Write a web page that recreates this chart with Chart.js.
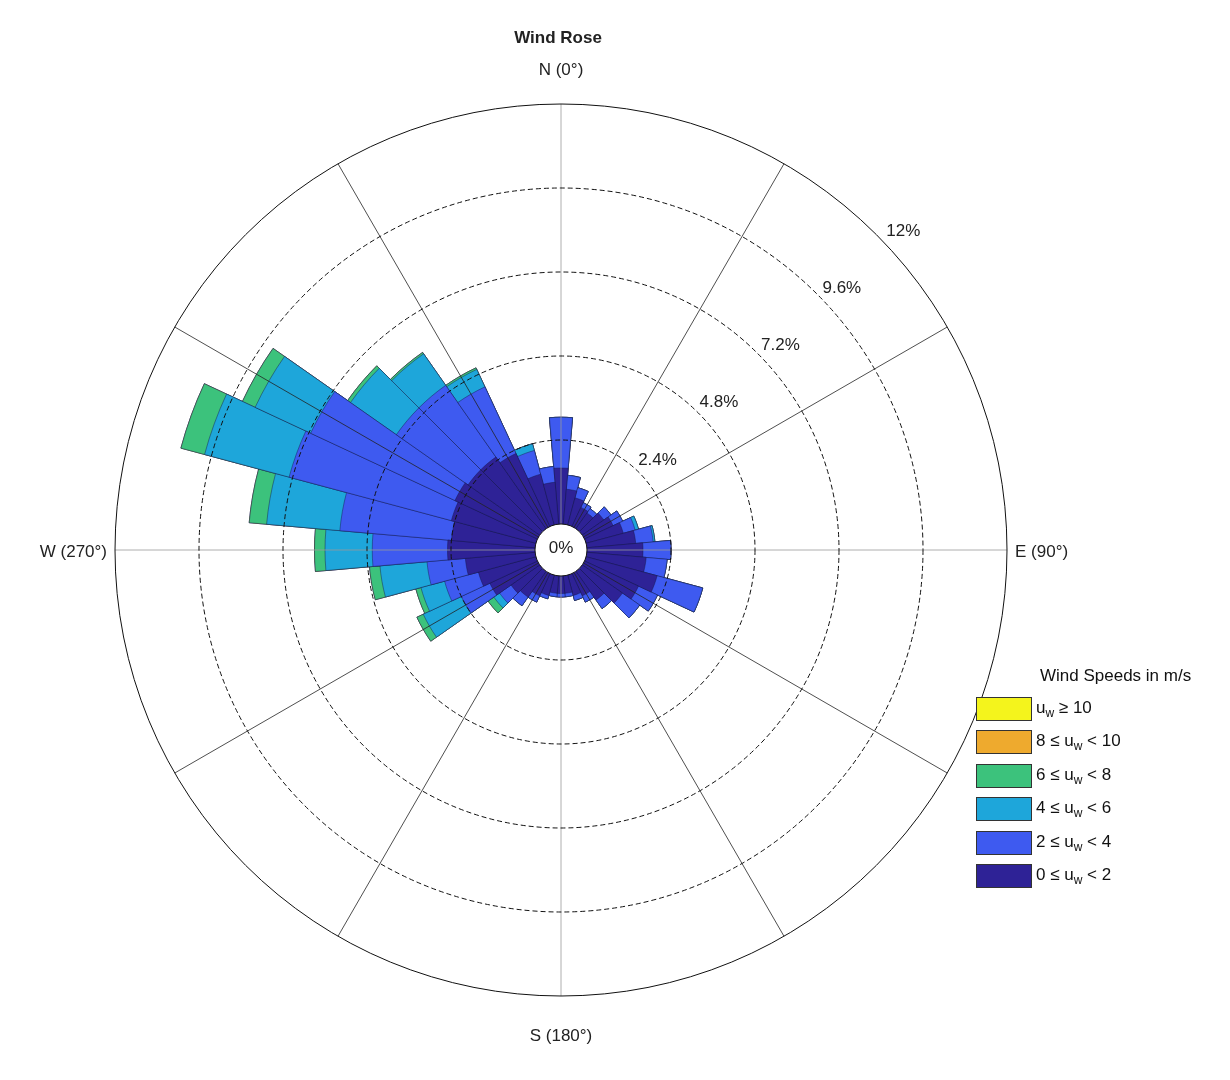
<!DOCTYPE html>
<html>
<head>
<meta charset="utf-8">
<script src="https://cdn.jsdelivr.net/npm/chart.js@4/dist/chart.umd.min.js"></script>
<style>
  body { margin: 0; background: #fff; font-family: "Liberation Sans", Arial, sans-serif; }
  #wrap { position: relative; width: 1230px; height: 1080px; }
  #legend { position: absolute; left: 976px; top: 666px; font-size: 17px; color: #111; }
  #legend .title { margin-left: 64px; margin-bottom: 6px; white-space: nowrap; }
  #legend .row { display: flex; align-items: center; height: 33.5px; }
  #legend .box { width: 54px; height: 22px; border: 1px solid #333; margin-right: 4px; }
  #legend sub { font-size: 12px; }
</style>
</head>
<body>
<div id="wrap">
  <canvas id="rose" width="1230" height="1080"></canvas>
  <div id="legend"></div>
</div>
<script>
// 方向（度），每 10° 一个扇区
const directions = Array.from({ length: 36 }, (_, i) => i * 10);
// 各风速区间频率（%）
const speed0to2 = [1.6, 1.0, 0.8, 0.6, 0.55, 0.75, 0.9, 1.1, 1.4, 1.6, 1.7, 2.1,
                   1.7, 1.4, 1.0, 0.7, 0.6, 0.5, 0.5, 0.5, 0.6, 0.7, 0.9, 1.0,
                   1.5, 1.7, 2.0, 2.5, 2.4, 2.5, 2.6, 2.5, 2.5, 2.3, 1.5, 1.2];
const speed2to4 = [1.45, 0.4, 0.3, 0.15, 0.15, 0.25, 0.3, 0.35, 0.5, 0.8, 0.6, 1.35,
                   0.6, 0.6, 0.3, 0.2, 0.15, 0.1, 0.1, 0.1, 0.1, 0.2, 0.3, 0.4,
                   0.9, 1.0, 1.1, 2.15, 3.2, 4.8, 4.55, 2.5, 2.5, 2.1, 0.7, 0.45];
const speed4to6 = [0, 0, 0, 0, 0, 0, 0, 0.1, 0.05, 0, 0, 0,
                   0, 0, 0, 0, 0, 0, 0, 0, 0, 0, 0, 0.2,
                   1.2, 0.7, 1.35, 1.35, 2.1, 2.5, 1.75, 1.6, 1.1, 0.55, 0.2, 0];
const speed6to8 = [0, 0, 0, 0, 0, 0, 0, 0, 0, 0, 0, 0,
                   0, 0, 0, 0, 0, 0, 0, 0, 0, 0, 0, 0.2,
                   0.2, 0.15, 0.3, 0.3, 0.5, 0.7, 0.4, 0.1, 0.05, 0.05, 0, 0];
const speed8to10 = new Array(36).fill(0);
const speed10up = new Array(36).fill(0);
const ringTicks = [0, 2.4, 4.8, 7.2, 9.6, 12];

const bins = [
  { label: '0 ≤ u<sub>w</sub> < 2', data: speed0to2, color: '#2e2296' },
  { label: '2 ≤ u<sub>w</sub> < 4', data: speed2to4, color: '#3e5af0' },
  { label: '4 ≤ u<sub>w</sub> < 6', data: speed4to6, color: '#1ea6da' },
  { label: '6 ≤ u<sub>w</sub> < 8', data: speed6to8, color: '#3cc27c' },
  { label: '8 ≤ u<sub>w</sub> < 10', data: speed8to10, color: '#eeaa2e' },
  { label: 'u<sub>w</sub> ≥ 10', data: speed10up, color: '#f4f41c' }
];

// 累积值：索引 0 的数据集画在最上层
let running = new Array(36).fill(0);
const datasets = bins.map(b => {
  running = running.map((v, i) => v + b.data[i]);
  return {
    data: running.slice(),
    backgroundColor: b.color,
    borderColor: 'rgba(20,20,70,0.55)',
    borderWidth: 0.8
  };
});

// 图例
const legend = document.getElementById('legend');
legend.innerHTML = '<div class="title">Wind Speeds in m/s</div>' +
  bins.slice().reverse().map(b =>
    `<div class="row"><div class="box" style="background:${b.color}"></div><span>${b.label}</span></div>`
  ).join('');

const roseDecor = {
  id: 'roseDecor',
  afterDatasetsDraw(chart) {
    const ctx = chart.ctx;
    const s = chart.scales.r;
    const cx = s.xCenter, cy = s.yCenter;
    const r0 = s.getDistanceFromCenterForValue(0);
    const rMax = s.getDistanceFromCenterForValue(12);
    ctx.save();
    // 径向线
    for (let a = 0; a < 360; a += 30) {
      const t = (a - 90) * Math.PI / 180;
      ctx.beginPath();
      ctx.strokeStyle = a % 90 === 0 ? '#9a9a9a' : '#222';
      ctx.lineWidth = 0.8;
      ctx.moveTo(cx + r0 * Math.cos(t), cy + r0 * Math.sin(t));
      ctx.lineTo(cx + rMax * Math.cos(t), cy + rMax * Math.sin(t));
      ctx.stroke();
    }
    // 同心圆
    ringTicks.forEach((v, i) => {
      const r = s.getDistanceFromCenterForValue(v);
      ctx.beginPath();
      ctx.setLineDash(i === ringTicks.length - 1 || v === 0 ? [] : [5, 3]);
      ctx.strokeStyle = '#111';
      ctx.lineWidth = 1;
      ctx.arc(cx, cy, r, 0, Math.PI * 2);
      if (v === 0) { ctx.fillStyle = '#fff'; ctx.fill(); }
      ctx.stroke();
    });
    ctx.setLineDash([]);
    ctx.fillStyle = '#222';
    ctx.font = '17px "Liberation Sans", Arial, sans-serif';
    ctx.textAlign = 'center';
    ctx.textBaseline = 'middle';
    ctx.fillText('0%', cx, cy - 2);
    const la = (47 - 90) * Math.PI / 180;
    ringTicks.slice(1).forEach(v => {
      const r = s.getDistanceFromCenterForValue(v) + 22;
      ctx.fillText(v + '%', cx + r * Math.cos(la), cy + r * Math.sin(la));
    });
    ctx.fillText('N (0°)', cx, cy - rMax - 34);
    ctx.fillText('S (180°)', cx, cy + rMax + 40);
    ctx.textAlign = 'left';
    ctx.fillText('E (90°)', cx + rMax + 8, cy + 2);
    ctx.textAlign = 'right';
    ctx.fillText('W (270°)', cx - rMax - 8, cy + 2);
    ctx.textAlign = 'center';
    ctx.font = 'bold 17px "Liberation Sans", Arial, sans-serif';
    ctx.fillText('Wind Rose', cx - 3, 38);
    ctx.restore();
  }
};

new Chart(document.getElementById('rose'), {
  type: 'polarArea',
  data: { labels: directions.map(d => d + '°'), datasets },
  options: {
    responsive: false,
    animation: false,
    layout: { padding: { left: 115, right: 223, top: 104, bottom: 84 } },
    plugins: { legend: { display: false }, tooltip: { enabled: false } },
    scales: {
      r: {
        min: -0.743,
        max: 12,
        startAngle: -5,
        ticks: { display: false },
        grid: { display: false },
        angleLines: { display: false },
        pointLabels: { display: false }
      }
    }
  },
  plugins: [roseDecor]
});
</script>
</body>
</html>
